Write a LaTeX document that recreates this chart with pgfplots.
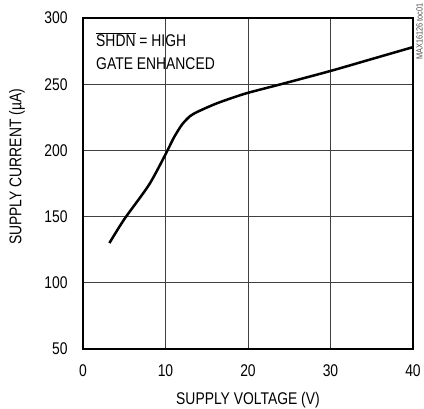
\documentclass[border=0pt]{standalone}
\usepackage{pgfplots}
\pgfplotsset{compat=1.18}
\usepackage{fontspec}
\setmainfont{Liberation Sans}[FakeStretch=0.82]
\begin{document}
\begin{tikzpicture}
\path[use as bounding box] (-83bp,-60bp) rectangle (341bp,349bp);
\begin{axis}[
  at={(0,0)}, anchor=origin,
  scale only axis,
  width=330bp, height=331bp,
  xmin=0, xmax=40, ymin=50, ymax=300,
  xtick={0,10,20,30,40}, ytick={50,100,150,200,250,300},
  major tick length=0pt,
  grid=major,
  major grid style={black!75, line width=0.8bp},
  axis line style={line width=2bp},
  tick label style={font=\fontsize{17}{17}\selectfont},
  /pgf/number format/assume math mode=true,
  xticklabel style={yshift=-12bp},
  yticklabel style={xshift=-12bp},
  xlabel={SUPPLY VOLTAGE (V)},
  ylabel={SUPPLY CURRENT (\textmu A)},
  label style={font=\fontsize{17}{17}\selectfont},
  xlabel style={at={(axis description cs:0.5,-0.155)}, anchor=center},
  ylabel style={at={(axis description cs:-0.2,0.55)}, anchor=center},
  clip=false,
]
\addplot[black, line width=2.5bp, smooth, tension=0.45] coordinates {
  (3.2,130) (5,148) (8,174) (10,197) (11,209.5) (12,219.5) (13,226)
  (14,229.5) (16,235) (18,239.5) (20,243.5) (24,250) (30,260) (35,269) (40,278)
};
\node[anchor=base west, font=\fontsize{17}{17}\selectfont, inner sep=0pt]
  at (axis cs:1.58,278.4) {$\overline{\mbox{SHDN}}$ = HIGH};
\node[anchor=base west, font=\fontsize{17}{17}\selectfont, inner sep=0pt]
  at (axis cs:1.58,261.3) {GATE ENHANCED};
\node[rotate=90, anchor=south east, font=\fontsize{9}{9}\selectfont, text=black!70, inner sep=0pt]
  at (rel axis cs:1.0303,1.045) {MAX16126 toc01};
\end{axis}
\end{tikzpicture}
\end{document}
